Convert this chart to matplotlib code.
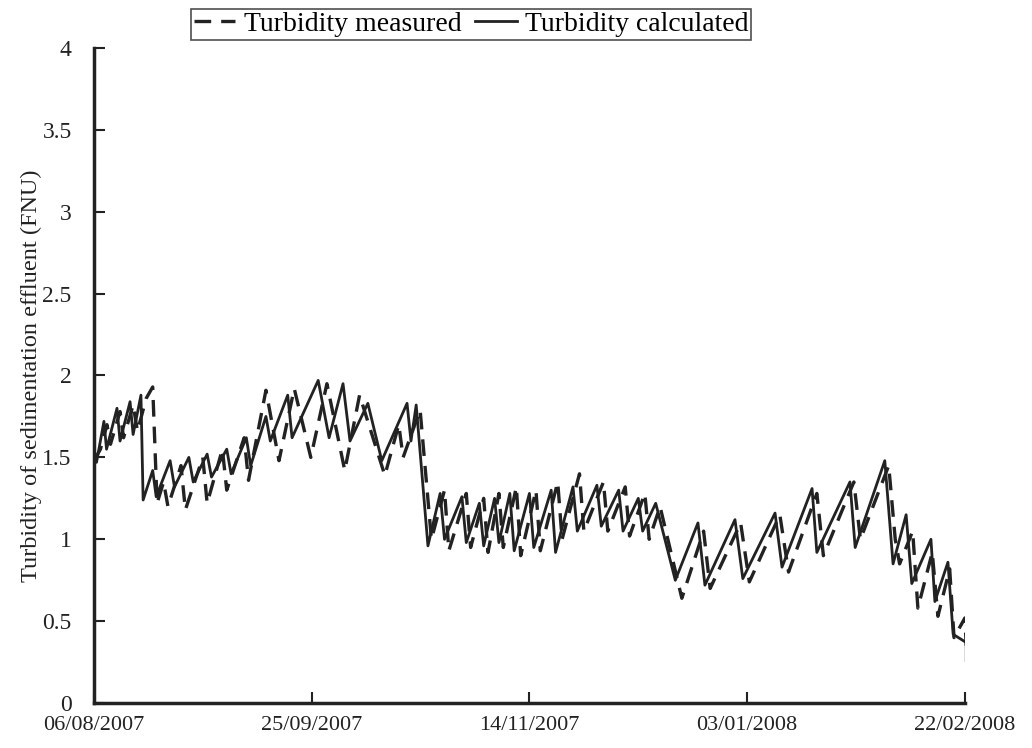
import matplotlib
matplotlib.use("Agg")
import matplotlib.pyplot as plt
import pandas as pd

plt.rcParams['font.family'] = ['Liberation Serif', 'DejaVu Serif']

start = pd.Timestamp("2007-08-06")
tick_dates = ["06/08/2007", "25/09/2007", "14/11/2007", "03/01/2008", "22/02/2008"]

# calculated turbidity (solid), days since 06/08/2007
calc_days = [0.0, 0.6, 2.3, 2.9, 5.3, 6.0, 8.3, 9.0, 10.8, 11.3,
             13.5, 14.3, 17.5, 18.5, 21.8, 22.8, 26.0, 27.0, 30.5, 31.5,
             35.0, 36.0, 39.5, 40.5, 44.5, 45.5, 51.5, 54.0, 57.2, 58.8,
             62.9, 66.1, 71.9, 72.8, 74.0, 76.7,
             79.5, 80.5, 84.5, 85.5, 88.5, 89.5, 92.0, 93.0, 95.5, 96.5,
             100.0, 101.0, 105.0, 106.0, 110.0, 111.0, 115.5, 116.5, 120.5, 121.5,
             125.0, 126.0, 129.0, 133.5,
             138.7, 140.3, 147.2, 149.0, 156.4, 158.0, 164.9, 166.0, 173.6, 174.8,
             181.6, 183.5, 186.5, 187.8, 192.2, 193.1, 196.1, 197.3, 200.3, 200.3]
calc_vals = [1.50, 1.47, 1.72, 1.55, 1.80, 1.60, 1.84, 1.64, 1.88, 1.24,
             1.42, 1.26, 1.48, 1.32, 1.50, 1.35, 1.52, 1.38, 1.55, 1.40,
             1.62, 1.45, 1.75, 1.60, 1.88, 1.62, 1.97, 1.62, 1.95, 1.60,
             1.83, 1.48, 1.83, 1.60, 1.82, 0.96,
             1.28, 1.00, 1.26, 0.98, 1.22, 0.96, 1.25, 0.98, 1.28, 0.93,
             1.28, 0.95, 1.30, 0.92, 1.32, 1.05, 1.33, 1.08, 1.30, 1.05,
             1.25, 1.05, 1.22, 0.75,
             1.10, 0.72, 1.12, 0.76, 1.16, 0.83, 1.31, 0.92, 1.35, 0.95,
             1.48, 0.85, 1.15, 0.73, 1.00, 0.62, 0.86, 0.42, 0.37, 0.26]

# measured turbidity (dashed)
meas_days = [0.0, 1.5, 3.0, 3.8, 6.0, 6.8, 9.0, 10.0, 12.0, 13.5, 14.5,
             16.0, 17.0, 20.0, 21.0, 25.0, 26.0, 29.5, 30.5, 34.5, 35.5,
             39.5, 42.5, 46.0, 49.8, 53.5, 57.6, 61.0, 66.8, 70.0, 71.0, 74.9, 77.5,
             80.5, 81.5, 85.5, 86.5, 89.5, 90.5, 93.0, 94.0, 97.0, 98.0,
             101.5, 102.5, 106.5, 107.5, 111.5, 112.5, 117.0, 118.0, 122.0, 123.0,
             126.5, 127.5, 130.0, 135.0,
             140.0, 141.5, 148.5, 150.5, 157.5, 159.5, 166.0, 167.5, 174.5, 176.0,
             182.5, 184.0, 185.0, 188.0, 189.2, 192.5, 193.8, 196.5, 197.5, 200.0, 200.3]
meas_vals = [1.48, 1.55, 1.70, 1.58, 1.78, 1.62, 1.82, 1.66, 1.86, 1.93, 1.22,
             1.35, 1.20, 1.45, 1.18, 1.50, 1.22, 1.55, 1.30, 1.62, 1.36,
             1.91, 1.48, 1.92, 1.50, 1.95, 1.42, 1.88, 1.39, 1.70, 1.50, 1.79, 1.00,
             1.30, 0.93, 1.28, 0.95, 1.25, 0.92, 1.28, 0.95, 1.32, 0.90,
             1.30, 0.93, 1.35, 1.00, 1.40, 1.05, 1.35, 1.05, 1.32, 1.02,
             1.28, 1.00, 1.20, 0.64,
             1.05, 0.70, 1.10, 0.74, 1.15, 0.80, 1.28, 0.90, 1.35, 1.00,
             1.45, 1.00, 0.85, 1.05, 0.58, 0.92, 0.53, 0.82, 0.40, 0.52, 0.35]

calc_x = start + pd.to_timedelta(calc_days, unit="D")
meas_x = start + pd.to_timedelta(meas_days, unit="D")
ticks = pd.to_datetime(tick_dates, format="%d/%m/%Y")

fig = plt.figure(figsize=(10.32, 7.48), dpi=100)
ax = fig.add_axes([0.091, 0.06, 0.844, 0.876])

ax.plot(meas_x, meas_vals, color="#222222", lw=2.4, ls=(0, (5, 3)), label="Turbidity measured")
ax.plot(calc_x, calc_vals, color="#222222", lw=2.0, label="Turbidity calculated")

ax.set_xlim(ticks[0], ticks[-1])
ax.set_ylim(0, 4)
ax.set_xticks(ticks)
ax.set_xticklabels(tick_dates)
ax.set_yticks([0, 0.5, 1, 1.5, 2, 2.5, 3, 3.5, 4])
ax.set_yticklabels(["0", "0.5", "1", "1.5", "2", "2.5", "3", "3.5", "4"])
ax.tick_params(direction="in", length=8, width=1.5, colors="#222222")
ax.tick_params(axis="y", pad=16, labelsize=17)
ax.tick_params(axis="x", pad=9, labelsize=16)

for s in ["top", "right"]:
    ax.spines[s].set_visible(False)
for s in ["left", "bottom"]:
    ax.spines[s].set_linewidth(2.5)
    ax.spines[s].set_color("#222222")

ax.set_ylabel("Turbidity of sedimentation effluent (FNU)", fontsize=17.5, color="#222222", labelpad=0)

leg = ax.legend(loc="center", bbox_to_anchor=(0.433, 1.036), ncol=2, frameon=True, fontsize=20,
                handlelength=1.5, columnspacing=0.5, handletextpad=0.3,
                borderpad=0.1, fancybox=False, edgecolor="#222222")
leg.get_frame().set_linewidth(1.2)

fig.savefig("out.png", dpi=100)
